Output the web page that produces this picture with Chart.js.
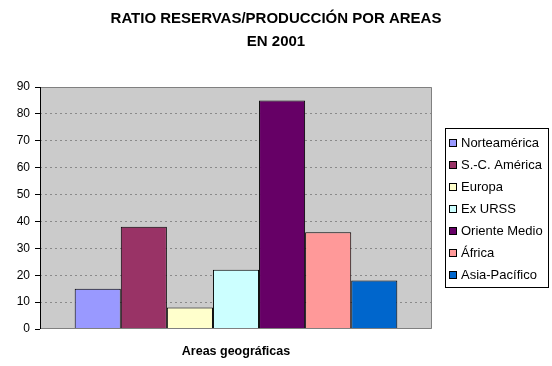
<!DOCTYPE html>
<html>
<head>
<meta charset="utf-8">
<script src="https://cdn.jsdelivr.net/npm/chart.js@4.4.0/dist/chart.umd.min.js"></script>
<style>
  html, body { margin: 0; padding: 0; background: #fff; }
  #wrap { width: 552px; height: 366px; position: relative; }
</style>
</head>
<body>
<div id="wrap"><canvas id="myChart"></canvas></div>
<script>
const titleLines = ['RATIO RESERVAS/PRODUCCIÓN POR AREAS', 'EN 2001'];
const categories = ['2001'];
const regions = ['Norteamérica', 'S.-C. América', 'Europa', 'Ex URSS', 'Oriente Medio', 'África', 'Asia-Pacífico'];
const ratios = [15, 38, 8, 22, 85, 36, 18];
const barColors = ['#9999FF', '#993366', '#FFFFCC', '#CCFFFF', '#660066', '#FF9999', '#0066CC'];
const yTicks = [0, 10, 20, 30, 40, 50, 60, 70, 80, 90];
const xTitle = 'Areas geográficas';

const FONT = "'Liberation Sans', Arial, sans-serif";

// gray plot area with a thin border, like the old spreadsheet charts
const plotBg = {
    id: 'plotBg',
    beforeDraw(chart) {
        const {ctx, chartArea: a} = chart;
        ctx.save();
        ctx.fillStyle = '#CBCBCB';
        ctx.fillRect(a.left, a.top, a.right - a.left, a.bottom - a.top);
        ctx.restore();
    },
    afterDatasetsDraw(chart) {
        const {ctx, chartArea: a} = chart;
        ctx.save();
        ctx.lineWidth = 1;
        ctx.strokeStyle = '#808080';
        ctx.beginPath();
        ctx.moveTo(a.left, a.top + 0.5);
        ctx.lineTo(a.right - 0.5, a.top + 0.5);
        ctx.lineTo(a.right - 0.5, a.bottom - 0.5);
        ctx.lineTo(a.left, a.bottom - 0.5);
        ctx.stroke();
        ctx.strokeStyle = '#000';
        ctx.beginPath();
        ctx.moveTo(a.left + 0.5, a.top);
        ctx.lineTo(a.left + 0.5, a.bottom);
        ctx.stroke();
        ctx.restore();
    }
};

// boxed legend on the right
const boxLegend = {
    id: 'boxLegend',
    afterDraw(chart) {
        const {ctx} = chart;
        const x = 445, y = 128, w = 103, h = 159;
        ctx.save();
        ctx.fillStyle = '#fff';
        ctx.fillRect(x, y, w, h);
        ctx.strokeStyle = '#000';
        ctx.lineWidth = 1;
        ctx.strokeRect(x + 0.5, y + 0.5, w, h);
        ctx.font = '13px ' + FONT;
        ctx.textBaseline = 'middle';
        chart.data.datasets.forEach((ds, i) => {
            const cy = Math.round(y + 15 + i * 22);
            ctx.fillStyle = ds.backgroundColor;
            ctx.fillRect(x + 4.5, cy - 3.5, 7, 7);
            ctx.strokeStyle = '#000';
            ctx.strokeRect(x + 4.5, cy - 3.5, 7, 7);
            ctx.fillStyle = '#000';
            ctx.fillText(ds.label, x + 16, cy + 0.5);
        });
        ctx.restore();
    }
};

const ctx = document.getElementById('myChart').getContext('2d');

const myChart = new Chart(ctx, {
    type: 'bar',
    data: {
        labels: categories,
        datasets: regions.map((r, i) => ({
            label: r,
            data: [ratios[i]],
            backgroundColor: barColors[i],
            borderColor: '#000',
            borderWidth: 1,
            categoryPercentage: 0.823,
            barPercentage: 1
        }))
    },
    options: {
        responsive: true,
        maintainAspectRatio: false,
        animation: false,
        layout: {
            padding: 0
        },
        plugins: {
            legend: { display: false },
            tooltip: { enabled: false },
            title: {
                display: true,
                text: titleLines,
                color: '#000',
                font: { family: FONT, size: 15, weight: 'bold', lineHeight: 1.55 },
                padding: { top: 7, bottom: 33.5 }
            }
        },
        scales: {
            x: {
                ticks: { display: false },
                grid: { display: false },
                border: { display: false },
                afterFit: (scale) => { scale.height = 37; },
                title: {
                    display: true,
                    text: xTitle,
                    color: '#000',
                    font: { family: FONT, size: 12.5, weight: 'bold' },
                    padding: { top: 0, bottom: 6.5 }
                }
            },
            y: {
                min: 0,
                max: 90,
                afterBuildTicks: (scale) => { scale.ticks = yTicks.map(v => ({ value: v })); },
                afterFit: (scale) => { scale.width = 40; },
                ticks: {
                    color: '#000',
                    padding: 5,
                    font: { family: FONT, size: 12 }
                },
                grid: {
                    color: (c) => (c.tick && (c.tick.value === 0 || c.tick.value === 90)) ? 'rgba(0,0,0,0)' : '#8a8a8a',
                    tickColor: '#000',
                    tickLength: 5,
                    tickBorderDash: []
                },
                border: { display: false, dash: [2, 3] }
            },
            // empty right-hand axis: only keeps the room where the legend box sits
            side: {
                type: 'linear',
                position: 'right',
                display: true,
                ticks: { display: false },
                grid: { display: false },
                border: { display: false },
                afterFit: (scale) => { scale.width = 120; }
            }
        }
    },
    plugins: [plotBg, boxLegend]
});
</script>
</body>
</html>
